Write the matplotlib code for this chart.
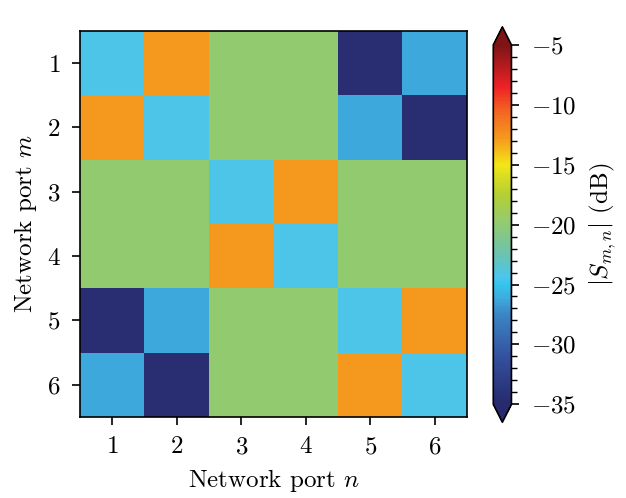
import matplotlib
matplotlib.use("Agg")
import matplotlib.pyplot as plt
import numpy as np
from matplotlib.colors import LinearSegmentedColormap
from matplotlib.ticker import MultipleLocator

# -------- DATA --------
PORTS = [1, 2, 3, 4, 5, 6]
S_DB = [
    [-24.3, -12.8, -19.8, -19.8, -34.5, -26.3],
    [-12.8, -24.3, -19.8, -19.8, -26.3, -34.5],
    [-19.8, -19.8, -24.3, -12.8, -19.8, -19.8],
    [-19.8, -19.8, -12.8, -24.3, -19.8, -19.8],
    [-34.5, -26.3, -19.8, -19.8, -24.3, -12.8],
    [-26.3, -34.5, -19.8, -19.8, -12.8, -24.3],
]
VMIN, VMAX = -35, -5

# custom colormap
CMAP_STOPS = [
    (-35.0, "#272a6c"),
    (-31.0, "#34519f"),
    (-27.5, "#3b86c6"),
    (-26.3, "#3ea8dc"),
    (-25.0, "#34c6f0"),
    (-24.3, "#4dc6ea"),
    (-22.5, "#6cc3b0"),
    (-19.8, "#93cb6f"),
    (-17.5, "#b3cf34"),
    (-15.0, "#f3e617"),
    (-12.8, "#f59a1e"),
    (-10.5, "#f26522"),
    (-8.5, "#ee2225"),
    (-5.0, "#7e1416"),
]

# -------- STYLE --------
plt.rcParams["font.family"] = "serif"
plt.rcParams["font.serif"] = ["cmr10"]
plt.rcParams["mathtext.fontset"] = "cm"
plt.rcParams["axes.formatter.use_mathtext"] = True
plt.rcParams["font.size"] = 18

cmap = LinearSegmentedColormap.from_list(
    "sdb", [((v - VMIN) / (VMAX - VMIN), c) for v, c in CMAP_STOPS])
cmap.set_under(CMAP_STOPS[0][1])
cmap.set_over(CMAP_STOPS[-1][1])

fig = plt.figure(figsize=(6.26, 4.98), dpi=100)
ax = fig.add_axes([0.128, 0.163, 0.618, 0.775])
cax = fig.add_axes([0.788, 0.152, 0.029, 0.794])

data = np.array(S_DB)
im = ax.imshow(data, cmap=cmap, vmin=VMIN, vmax=VMAX, aspect="auto",
               extent=(0.5, 6.5, 6.5, 0.5))
ax.set_xticks(PORTS)
ax.set_yticks(PORTS)
ax.set_xlabel("Network port $n$", labelpad=6)
ax.set_ylabel("Network port $m$", labelpad=6)
ax.tick_params(length=6, width=1.2, pad=8)
for s in ax.spines.values():
    s.set_linewidth(1.2)

cb = fig.colorbar(im, cax=cax, extend="both", extendfrac=0.05)
cb.set_ticks([-35, -30, -25, -20, -15, -10, -5])
cb.ax.yaxis.set_minor_locator(MultipleLocator(1))
cb.ax.tick_params(which="major", length=6, width=1.2, pad=8)
cb.ax.tick_params(which="minor", length=4, width=1.0)
cb.outline.set_linewidth(1.2)
cb.set_label("$|S_{m,n}|$ (dB)", labelpad=8)

fig.savefig("out.png", dpi=100)
